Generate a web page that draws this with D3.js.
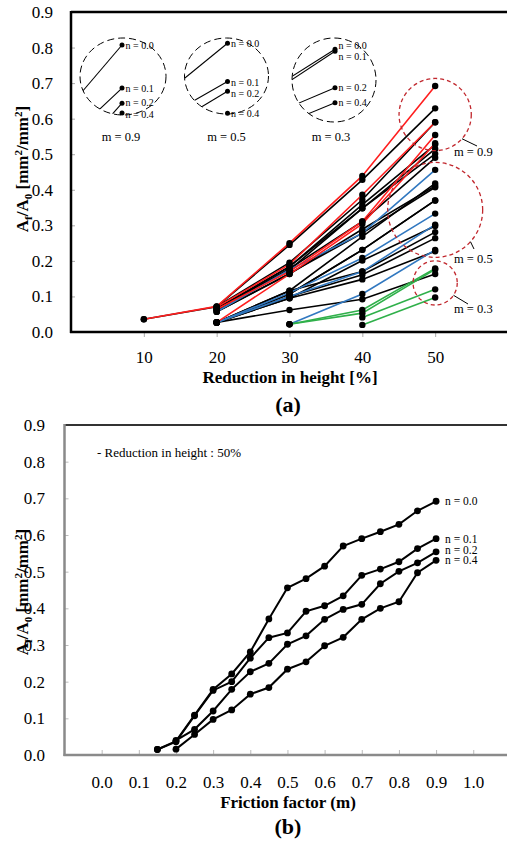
<!DOCTYPE html>
<html><head><meta charset="utf-8">
<script src="https://cdn.jsdelivr.net/npm/d3@7/dist/d3.min.js"></script>
<style>
body{margin:0;background:#fff}
svg{display:block}
text{font-family:"Liberation Serif","Times New Roman",serif;fill:#000}
</style></head>
<body><svg id="c" width="507" height="842"></svg>
<script>
// ---------------- DATA ----------------
// Chart (a): reduction in height [%]
const reductions = [10, 20, 30, 40, 50];
const reductionTicks = [10, 20, 30, 40, 50];
const ratioTicks = [0, 0.1, 0.2, 0.3, 0.4, 0.5, 0.6, 0.7, 0.8, 0.9];
const mGroups = [0.9, 0.8, 0.7, 0.6, 0.5, 0.4, 0.3];
const nValues = [0.0, 0.1, 0.2, 0.4];
const nLabels = ["n = 0.0", "n = 0.1", "n = 0.2", "n = 0.4"];
// rows = n 0.0, 0.1, 0.2, 0.4 ; columns = reduction 10..50
const a_m09 = [[0.036,0.072,0.250,0.439,0.692],[null,0.070,0.190,0.386,0.590],[null,0.064,0.170,0.311,0.554],[null,0.027,0.163,0.304,0.531]];
const a_m08 = [[0.036,0.071,0.245,0.428,0.629],[null,0.066,0.184,0.358,0.527],[null,0.062,0.175,0.348,0.501],[null,0.027,0.116,0.268,0.418]];
const a_m07 = [[null,0.071,0.195,0.372,0.590],[null,0.064,0.178,0.311,0.490],[null,0.057,0.163,0.289,0.411],[null,0.027,0.107,0.231,0.370]];
const a_m06 = [[null,0.064,0.184,0.348,0.515],[null,0.057,0.165,0.278,0.407],[null,0.027,0.107,0.231,0.370],[null,0.027,0.095,0.201,0.298]];
const a_m05 = [[null,0.057,0.175,0.278,0.456],[null,0.027,0.110,0.208,0.333],[null,0.027,0.100,0.170,0.302],[null,null,0.022,0.107,0.231]];
const a_m04 = [[null,0.027,0.116,0.170,0.281],[null,0.027,0.100,0.161,0.264],[null,0.027,0.095,0.148,0.227],[null,0.027,0.062,0.092,0.163]];
const a_m03 = [[null,null,0.022,0.062,0.179],[null,null,0.022,0.053,0.176],[null,null,null,0.041,0.120],[null,null,null,0.020,0.097]];
const insetGroups = [0.9, 0.5, 0.3];

// Chart (b): 50% reduction in height, friction factor m
const frictionB = [0.15,0.20,0.25,0.30,0.35,0.40,0.45,0.50,0.55,0.60,0.65,0.70,0.75,0.80,0.85,0.90];
const frictionTicks = [0,0.1,0.2,0.3,0.4,0.5,0.6,0.7,0.8,0.9,1.0];
const b_n00 = [0.015,0.038,0.109,0.179,0.221,0.281,0.371,0.456,0.481,0.515,0.570,0.590,0.609,0.629,0.666,0.692];
const b_n01 = [0.015,0.036,0.107,0.176,0.200,0.264,0.320,0.333,0.392,0.407,0.434,0.490,0.507,0.527,0.563,0.590];
const b_n02 = [null,0.040,0.070,0.120,0.179,0.227,0.250,0.302,0.325,0.370,0.397,0.411,0.467,0.501,0.524,0.554];
const b_n04 = [null,0.016,0.056,0.097,0.123,0.166,0.184,0.234,0.254,0.298,0.321,0.370,0.400,0.418,0.497,0.531];

// ---------------- STYLE / LAYOUT ----------------
const groupRows = {0.9:a_m09, 0.8:a_m08, 0.7:a_m07, 0.6:a_m06, 0.5:a_m05, 0.4:a_m04, 0.3:a_m03};
const groupColor = {0.9:"#ff1e1e", 0.5:"#3178c0", 0.3:"#2fb04a"};
const drawOrder = [0.8, 0.7, 0.6, 0.4, 0.5, 0.3, 0.9];
const svg = d3.select("#c");
const fmt = d3.format(".1f");

function yTitle(g, x, y) {
  const t = g.append("text").attr("transform", `translate(${x},${y}) rotate(-90)`)
    .attr("text-anchor", "middle").attr("font-weight", "bold").attr("font-size", 17);
  t.append("tspan").text("A");
  t.append("tspan").attr("font-size", 11).attr("dy", 4).text("f");
  t.append("tspan").attr("dy", -4).text("/A");
  t.append("tspan").attr("font-size", 11).attr("dy", 4).text("0");
  t.append("tspan").attr("dy", -4).text(" [mm");
  t.append("tspan").attr("font-size", 11).attr("dy", -6).text("2");
  t.append("tspan").attr("dy", 6).text("/mm");
  t.append("tspan").attr("font-size", 11).attr("dy", -6).text("2");
  t.append("tspan").attr("dy", 6).text("]");
}

// ================= CHART (a) =================
const xA = d3.scaleLinear().domain([0, 60]).range([71, 508]);
const yA = d3.scaleLinear().domain([0, 0.9]).range([332, 12]);
const gA = svg.append("g");

const axA_x = gA.append("g").attr("transform", "translate(0,332)")
  .call(d3.axisBottom(xA).tickValues(reductionTicks).tickSize(5).tickPadding(14).tickFormat(d3.format("d")));
const axA_y = gA.append("g").attr("transform", "translate(71,0)")
  .call(d3.axisLeft(yA).tickValues(ratioTicks).tickSizeInner(-4).tickSizeOuter(0).tickPadding(18).tickFormat(fmt));
[axA_x, axA_y].forEach(a => {
  a.select(".domain").remove();
  a.selectAll(".tick line").attr("stroke", "#aaa").attr("stroke-width", 1);
  a.selectAll(".tick text").attr("font-size", 17).attr("font-family", '"Liberation Serif",serif').attr("fill", "#000");
});
axA_y.selectAll(".tick").filter(d => d === 0).select("line").remove();

// frame
gA.append("line").attr("x1", 71).attr("x2", 507).attr("y1", 12).attr("y2", 12).attr("stroke", "#000").attr("stroke-width", 2.5);
gA.append("line").attr("x1", 71).attr("x2", 71).attr("y1", 11).attr("y2", 333).attr("stroke", "#000").attr("stroke-width", 2.5);
gA.append("line").attr("x1", 70).attr("x2", 507).attr("y1", 332).attr("y2", 332).attr("stroke", "#000").attr("stroke-width", 2.5);

const lineA = d3.line().defined(d => d[1] != null).x(d => xA(d[0])).y(d => yA(d[1]));
const pairs = row => reductions.map((r, i) => [r, row[i]]);

drawOrder.forEach(m => {
  groupRows[m].forEach(row => {
    gA.append("path").attr("d", lineA(pairs(row))).attr("fill", "none")
      .attr("stroke", groupColor[m] || "#000").attr("stroke-width", 1.6);
  });
});
drawOrder.forEach(m => {
  groupRows[m].forEach(row => {
    gA.selectAll(null).data(pairs(row).filter(d => d[1] != null)).enter().append("circle")
      .attr("cx", d => xA(d[0])).attr("cy", d => yA(d[1])).attr("r", 3.2).attr("fill", "#000");
  });
});

// red dashed group circles at 50%
const redCircleLayout = {0.9:{lx:454, ly:156, ex:477, ey:146, ang:42, txt:"m = 0.9"},
                         0.5:{lx:454, ly:262.5, ex:474, ey:249, ang:42, txt:"m = 0.5"},
                         0.3:{lx:454, ly:313, ex:468, ey:304, ang:34, txt:"m = 0.3"}};
insetGroups.forEach(m => {
  const ends = groupRows[m].map(r => r[4]);
  const hi = d3.max(ends), lo = d3.min(ends);
  const cx = xA(50), cy = yA((hi + lo) / 2);
  const r = (yA(lo) - yA(hi)) / 2 + 7.5;
  const L = redCircleLayout[m];
  gA.append("circle").attr("cx", cx).attr("cy", cy).attr("r", r).attr("fill", "none")
    .attr("stroke", "#c1272d").attr("stroke-width", 1.3).attr("stroke-dasharray", "4,3");
  const a = L.ang * Math.PI / 180;
  gA.append("line").attr("x1", cx + r * Math.cos(a)).attr("y1", cy + r * Math.sin(a))
    .attr("x2", L.ex).attr("y2", L.ey).attr("stroke", "#000").attr("stroke-width", 1);
  gA.append("text").attr("x", L.lx).attr("y", L.ly).attr("font-size", 12.5).text(L.txt);
});

// magnified insets (dashed black circles)
const insetLayout = {
  0.9:{cx:123, cy:76.5, rx:43, ry:38.5, dotX:122, yTop:45, ky:422, kx:9.1, lab:[0,0,-1.2,1.2], mlx:121},
  0.5:{cx:226.5, cy:76, rx:42, ry:38, dotX:227.5, yTop:43.3, ky:311, kx:6.8, lab:[0,0.5,2,0], mlx:226.5},
  0.3:{cx:334, cy:80, rx:42, ry:42, dotX:335, yTop:49.3, ky:651, kx:12.1, lab:[-3.6,5,0,0], mlx:331}
};
insetGroups.forEach((m, gi) => {
  const L = insetLayout[m];
  const rows = groupRows[m];
  const vTop = d3.max(rows, r => r[4]);
  const xI = d3.scaleLinear().domain([40, 50]).range([L.dotX - 10 * L.kx, L.dotX]);
  const yI = d3.scaleLinear().domain([vTop, vTop - 1]).range([L.yTop, L.yTop + L.ky]);
  const clipId = "clipI" + gi;
  svg.append("clipPath").attr("id", clipId).append("ellipse")
    .attr("cx", L.cx).attr("cy", L.cy).attr("rx", L.rx).attr("ry", L.ry);
  const lineI = d3.line().x(d => xI(d[0])).y(d => yI(d[1]));
  const gI = gA.append("g");
  gI.append("g").attr("clip-path", `url(#${clipId})`).selectAll("path")
    .data(rows).enter().append("path")
    .attr("d", row => lineI([[40, row[3]], [50, row[4]]]))
    .attr("fill", "none").attr("stroke", "#000").attr("stroke-width", 1.1);
  gI.append("ellipse").attr("cx", L.cx).attr("cy", L.cy).attr("rx", L.rx).attr("ry", L.ry)
    .attr("fill", "none").attr("stroke", "#000").attr("stroke-width", 1).attr("stroke-dasharray", "7,4");
  rows.forEach((row, i) => {
    gI.append("circle").attr("cx", xI(50)).attr("cy", yI(row[4])).attr("r", 2.5).attr("fill", "#000");
    gI.append("text").attr("x", xI(50) + 3.5).attr("y", yI(row[4]) + 3.5 + L.lab[i])
      .attr("font-size", 10).text(nLabels[i]);
  });
  gI.append("text").attr("x", L.mlx).attr("y", 141).attr("text-anchor", "middle")
    .attr("font-size", 12.5).text("m = " + fmt(m));
});

yTitle(gA, 28, 169);
gA.append("text").attr("x", 290).attr("y", 382.5).attr("text-anchor", "middle")
  .attr("font-weight", "bold").attr("font-size", 17).text("Reduction in height [%]");
gA.append("text").attr("x", 288).attr("y", 412).attr("text-anchor", "middle")
  .attr("font-weight", "bold").attr("font-size", 22).text("(a)");

// ================= CHART (b) =================
const xB = d3.scaleLinear().domain([-0.1, 1.1]).range([64.5, 510.4]);
const yB = d3.scaleLinear().domain([0, 0.9]).range([755, 425]);
const gB = svg.append("g");

const axB_x = gB.append("g").attr("transform", "translate(0,755)")
  .call(d3.axisBottom(xB).tickValues(frictionTicks).tickSizeInner(-5).tickSizeOuter(0).tickPadding(21).tickFormat(fmt));
const axB_y = gB.append("g").attr("transform", "translate(64.5,0)")
  .call(d3.axisLeft(yB).tickValues(ratioTicks).tickSizeInner(-4).tickSizeOuter(0).tickPadding(19.5).tickFormat(fmt));
[axB_x, axB_y].forEach(a => {
  a.select(".domain").remove();
  a.selectAll(".tick line").attr("stroke", "#bbb").attr("stroke-width", 1);
  a.selectAll(".tick text").attr("font-size", 17).attr("font-family", '"Liberation Serif",serif').attr("fill", "#000");
});
axB_y.selectAll(".tick").filter(d => d === 0).select("line").remove();

gB.append("line").attr("x1", 64.5).attr("x2", 507).attr("y1", 425).attr("y2", 425).attr("stroke", "#333").attr("stroke-width", 2.2);
gB.append("line").attr("x1", 64.5).attr("x2", 64.5).attr("y1", 424).attr("y2", 756).attr("stroke", "#8a8a8a").attr("stroke-width", 2.5);
gB.append("line").attr("x1", 63.5).attr("x2", 507).attr("y1", 755).attr("y2", 755).attr("stroke", "#8a8a8a").attr("stroke-width", 2.5);

const seriesB = [b_n00, b_n01, b_n02, b_n04];
const labelDyB = [0, 0, -2, 0];
const lineB = d3.line().defined(d => d[1] != null).x(d => xB(d[0])).y(d => yB(d[1]));
seriesB.forEach((vals, i) => {
  const pts = frictionB.map((m, j) => [m, vals[j]]);
  gB.append("path").attr("d", lineB(pts)).attr("fill", "none").attr("stroke", "#000").attr("stroke-width", 2);
  gB.selectAll(null).data(pts.filter(d => d[1] != null)).enter().append("circle")
    .attr("cx", d => xB(d[0])).attr("cy", d => yB(d[1])).attr("r", 3.4).attr("fill", "#000");
  const last = pts[pts.length - 1];
  gB.append("text").attr("x", xB(last[0]) + 9).attr("y", yB(last[1]) + 4 + labelDyB[i])
    .attr("font-size", 11.5).text(nLabels[i]);
});

gB.append("text").attr("x", 97).attr("y", 457).attr("font-size", 13).text("- Reduction in height : 50%");
yTitle(gB, 28, 592);
gB.append("text").attr("x", 288).attr("y", 808).attr("text-anchor", "middle")
  .attr("font-weight", "bold").attr("font-size", 17).text("Friction factor (m)");
gB.append("text").attr("x", 288).attr("y", 834).attr("text-anchor", "middle")
  .attr("font-weight", "bold").attr("font-size", 22).text("(b)");
</script>
</body></html>
